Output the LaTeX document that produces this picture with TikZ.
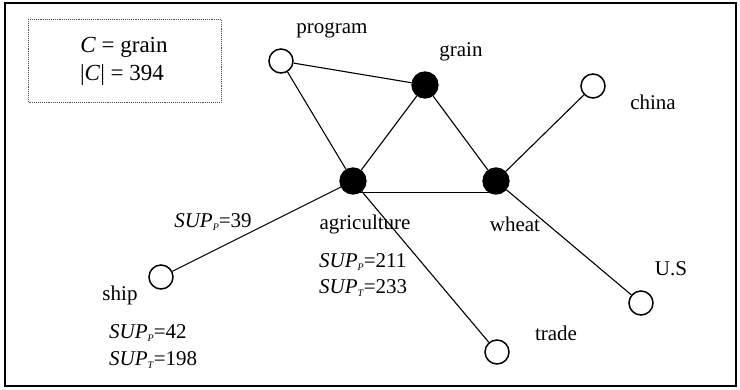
\documentclass[tikz,border=0pt]{standalone}
\usepackage{fontspec}
\setmainfont{Liberation Serif}
\newcommand{\suplab}[2]{\textit{SUP}\raisebox{-3pt}{\fontsize{10}{10}\selectfont\textit{#1}}=#2}
\begin{document}
\begin{tikzpicture}[x=1pt,y=-1pt,
  every node/.style={font=\fontsize{21}{24}\selectfont},
  filled/.style={circle,draw,fill=black,minimum size=26pt,inner sep=0pt,line width=1.3pt},
  open/.style={circle,draw,fill=white,minimum size=24pt,inner sep=0pt,line width=1.5pt},
  edge/.style={line width=1.1pt},
  lab/.style={inner sep=0pt,anchor=center},
  big/.style={font=\fontsize{23}{26}\selectfont}]
\useasboundingbox (0,0) rectangle (740,389);
\draw[line width=2pt] (5,3) rectangle (736,386);
\draw[densely dotted,line width=0.9pt,black!70] (28,19) rectangle (221,102);
\node[lab,big] (cdef) at (124,47) {\textit{C} = grain};
\node[lab,big] (csize) at (122,75) {|\textit{C}| = 394};

\node[open] (program) at (281,61) {};
\node[filled] (grain) at (425,85) {};
\node[filled] (agri) at (353,181) {};
\node[filled] (wheat) at (496,181) {};
\node[open] (china) at (593,86) {};
\node[open] (us) at (641,303) {};
\node[open] (trade) at (497,352) {};
\node[open] (ship) at (161,277) {};

\node[lab] (lprogram) at (332,30) {program};
\node[lab] (lgrain) at (461,52) {grain};
\node[lab] (lchina) at (653,102) {china};
\node[lab] (lus) at (671,269) {U.S};
\node[lab] (ltrade) at (556,333) {trade};
\node[lab] (lship) at (120,295) {ship};
\node[lab] (lagri) at (365,224) {agriculture};
\node[lab] (lwheat) at (515,224) {wheat};
\node[lab] (s39) at (213,222) {\suplab{P}{39}};
\node[lab,anchor=west] (s42) at (109,333) {\suplab{P}{42}};
\node[lab,anchor=west] (s198) at (109,360) {\suplab{T}{198}};
\node[lab,anchor=west] (s211) at (319,262) {\suplab{P}{211}};
\node[lab,anchor=west] (s233) at (319,288) {\suplab{T}{233}};

\draw[edge] (program) -- (grain);
\draw[edge] (program) -- (agri);
\draw[edge] (grain) -- (agri);
\draw[edge] (grain) -- (wheat);
\draw[edge] (agri.-58) -- (wheat.-122);
\draw[edge] (agri) -- (ship);
\draw[edge] (agri) -- (trade);
\draw[edge] (wheat) -- (china);
\draw[edge] (wheat) -- (us);
\end{tikzpicture}
\end{document}
